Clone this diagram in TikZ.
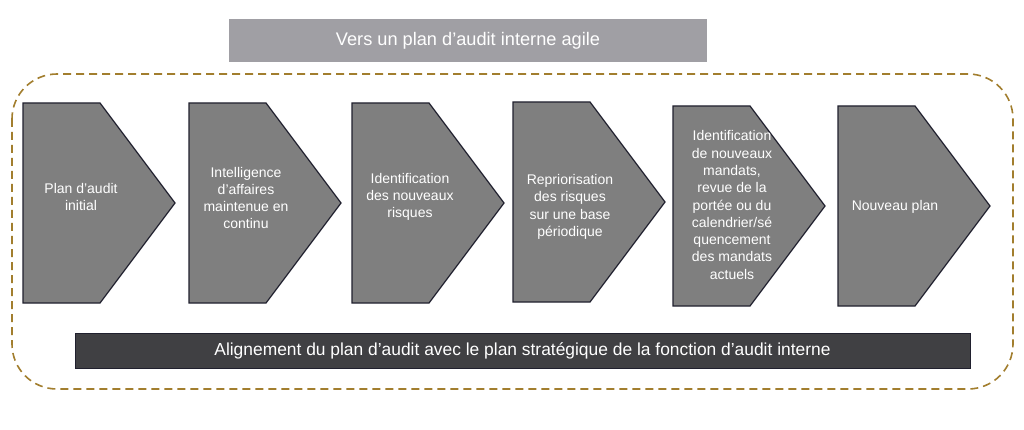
\documentclass[tikz,border=0pt]{standalone}
\usepackage{fontspec}
\setmainfont{Liberation Sans}
\usepackage{tikz}
\usetikzlibrary{calc}
\definecolor{chevgray}{HTML}{7F7F7F}
\definecolor{edgenavy}{HTML}{20202E}
\definecolor{titlegray}{HTML}{A09FA4}
\definecolor{bardark}{HTML}{404043}
\definecolor{dashgold}{HTML}{A27E2E}

% one chevron: name, left x, top y, text centre x, text centre y, text
\newcommand{\chevron}[6]{%
    \draw[chevline] (#2,#3) -- ++(77,0) -- ++(75,100) -- ++(-75,100) -- ++(-77,0) -- cycle;
    \node[chevtext] (#1) at (#4,#5) {#6};
}

\begin{document}
\begin{tikzpicture}[x=1pt, y=-1pt,
    chevline/.style={fill=chevgray, draw=edgenavy, line width=1.2pt, line join=miter},
    chevtext/.style={text=white, align=center, font=\fontsize{14}{17.3}\selectfont, inner sep=0pt},
    every node/.style={inner sep=0pt}]
    \useasboundingbox (0,0) rectangle (1024,430);

    % Titre
    \node[fill=titlegray, minimum width=478pt, minimum height=43pt, text=white,
          font=\fontsize{18.2}{22}\selectfont] (titre) at (468,40.5) {Vers un plan d’audit interne agile};

    % Cadre pointillé
    \draw[dashgold, line width=1.6pt, dash pattern=on 8pt off 5pt, rounded corners=45pt]
        (12,74) rectangle (1013,389);

    % Étapes
    \chevron{plan}{23}{103}{81}{197}{Plan d’audit\\initial}
    \chevron{intel}{189}{103}{246}{198}{Intelligence\\d’affaires\\maintenue en\\continu}
    \chevron{risques}{352}{103}{410}{197}{Identification\\des nouveaux\\risques}
    \chevron{reprio}{513}{102}{570}{207}{Repriorisation\\des risques\\sur une base\\périodique}
    \chevron{mandats}{673}{106}{732}{205}{Identification\\de nouveaux\\mandats,\\revue de la\\portée ou du\\calendrier/sé\\quencement\\des mandats\\actuels}
    \chevron{nouveau}{838}{106}{895}{207}{Nouveau plan}

    % Barre d'alignement
    \node[fill=bardark, draw=edgenavy, line width=1pt, minimum width=895pt, minimum height=35pt,
          text=white, font=\fontsize{17.4}{21}\selectfont] (aligne) at (522.5,350.5)
          {Alignement du plan d’audit avec le plan stratégique de la fonction d’audit interne};
\end{tikzpicture}
\end{document}
